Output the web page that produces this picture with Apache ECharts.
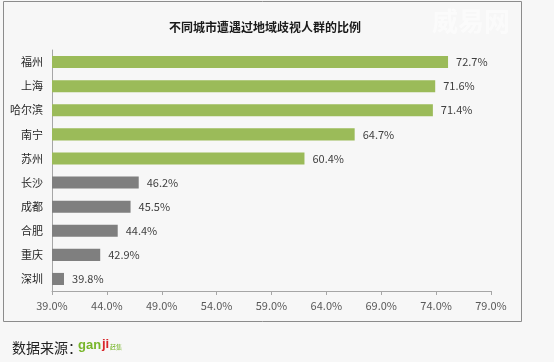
<!DOCTYPE html>
<html>
<head>
<meta charset="utf-8">
<script src="https://cdn.jsdelivr.net/npm/echarts@6/dist/echarts.min.js"></script>
<style>
html,body{margin:0;padding:0;background:#f7f7f7;}
#chart{width:554px;height:362px;}
</style>
</head>
<body>
<div id="chart"></div>
<script>
var TITLE = '不同城市遭遇过地域歧视人群的比例';
var CITIES = ['福州', '上海', '哈尔滨', '南宁', '苏州', '长沙', '成都', '合肥', '重庆', '深圳'];
var VALUES = [72.7, 71.6, 71.4, 64.7, 60.4, 46.2, 45.5, 44.4, 42.9, 39.8];
var HIGHLIGHT = [true, true, true, true, true, false, false, false, false, false];
var TICK_VALUES = [39, 44, 49, 54, 59, 64, 69, 74, 79];
var SOURCE = '数据来源：';

var FONT = '"Noto Sans CJK SC", "Microsoft YaHei", sans-serif';
var GREEN = '#9bbb59', GRAY = '#7f7f7f';

var chart = echarts.init(document.getElementById('chart'), null, {renderer: 'canvas'});
var option = {
  backgroundColor: '#f7f7f7',
  animation: false,
  textStyle: {fontFamily: FONT},
  title: {
    text: TITLE, left: 260, top: 16, textAlign: 'center',
    textStyle: {fontSize: 12, fontWeight: 'bold', color: '#1a1a1a', fontFamily: FONT}
  },
  grid: {left: 52, right: 63, top: 50, bottom: 71, containLabel: false},
  xAxis: [{
    type: 'value', min: 39, max: 79,
    axisLine: {show: true, lineStyle: {color: '#a6a6a6'}},
    axisTick: {show: true, length: 4, customValues: TICK_VALUES, lineStyle: {color: '#a6a6a6'}},
    axisLabel: {customValues: TICK_VALUES, fontSize: 11, color: '#595959', margin: 9,
      formatter: function (v) { return v.toFixed(1) + '%'; }},
    splitLine: {show: false}
  }, {
    type: 'value', min: 38.77, max: 76.38, show: false,
    splitLine: {show: false}
  }],
  yAxis: {
    type: 'category', data: CITIES, inverse: true,
    axisLine: {show: true, lineStyle: {color: '#a6a6a6'}},
    axisTick: {show: false},
    axisLabel: {fontSize: 11, color: '#262626', margin: 9}
  },
  series: [{
    type: 'bar', xAxisIndex: 1, barWidth: '50%',
    data: VALUES.map(function (v, i) {
      return {value: v, itemStyle: {color: HIGHLIGHT[i] ? GREEN : GRAY}};
    }),
    label: {
      show: true, position: 'right', distance: 8, fontSize: 11, color: '#404040',
      formatter: function (p) { return p.value.toFixed(1) + '%'; }
    }
  }],
  graphic: [
    {type: 'rect', shape: {x: 3.5, y: 1.5, width: 518, height: 320},
     style: {fill: null, stroke: '#8c8c8c', lineWidth: 1}, silent: true},
    {type: 'text', left: 432, top: 8,
     style: {text: '威易网', fontSize: 26, fontWeight: 'bold', fill: '#ffffff', opacity: 0.55, fontFamily: FONT}},
    {type: 'text', left: 12, top: 341,
     style: {text: SOURCE, fontSize: 14, fill: '#222', fontFamily: FONT}},
    {type: 'text', left: 78, top: 339,
     style: {text: 'gan', fontSize: 13, fontWeight: 'bold', fill: '#78b62a', fontFamily: '"Liberation Sans", sans-serif'}},
    {type: 'text', left: 102, top: 338,
     style: {text: 'ji', fontSize: 13, fontWeight: 'bold', fill: '#d9262b', fontFamily: '"Liberation Sans", sans-serif'}},
    {type: 'text', left: 110, top: 344,
     style: {text: '赶集', fontSize: 6, fill: '#78b62a', fontFamily: FONT}}
  ]
};
chart.setOption(option);
</script>
</body>
</html>
